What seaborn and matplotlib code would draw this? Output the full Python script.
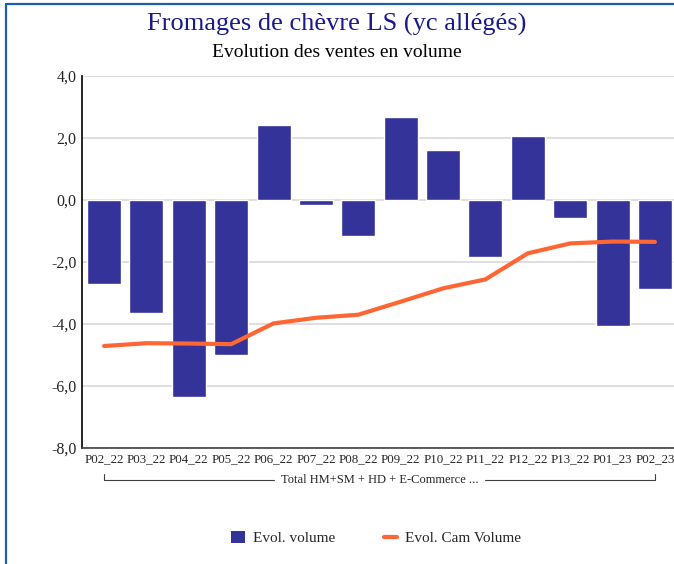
import numpy as np
import pandas as pd
import matplotlib
matplotlib.use("Agg")
import matplotlib.pyplot as plt
import seaborn as sns
from matplotlib.lines import Line2D
from matplotlib.patches import Patch

# Périodes et valeurs
periodes = ["P02_22", "P03_22", "P04_22", "P05_22", "P06_22", "P07_22", "P08_22",
            "P09_22", "P10_22", "P11_22", "P12_22", "P13_22", "P01_23", "P02_23"]
evol_volume = [-2.7, -3.63, -6.34, -5.0, 2.42, -0.15, -1.15,
               2.68, 1.61, -1.83, 2.06, -0.57, -4.05, -2.86]
evol_cam = [-4.71, -4.62, -4.63, -4.65, -3.98, -3.80, -3.70,
            -3.28, -2.85, -2.56, -1.72, -1.40, -1.34, -1.35]
yticks = [-8, -6, -4, -2, 0, 2, 4]

df = pd.DataFrame({"Période": periodes, "Evol. volume": evol_volume,
                   "Evol. Cam Volume": evol_cam})

sns.set_style("white")
plt.rcParams["font.family"] = ["Liberation Serif", "DejaVu Serif"]

bar_col = "#333399"
line_col = "#FF6633"

fig = plt.figure(figsize=(6.74, 5.64), dpi=100)
ax = fig.add_axes([0.1217, 0.2057, 0.8783, 0.6595])

sns.barplot(data=df, x="Période", y="Evol. volume", color=bar_col,
            saturation=1, width=0.8, ax=ax, zorder=2)
sns.lineplot(x=np.arange(len(df)), y=df["Evol. Cam Volume"], color=line_col,
             linewidth=3, ax=ax, zorder=3)

ax.set_ylim(-8, 4)
ax.set_xlim(-0.52, 13.45)
ax.set_yticks(yticks)
ax.set_yticklabels([f"{v:.1f}".replace(".", ",") for v in yticks], fontsize=11.5)
ax.set_xticks(range(len(df)))
ax.set_xticklabels(periodes, fontsize=9.3)
ax.tick_params(axis="both", length=0, pad=4)
ax.set_xlabel("")
ax.set_ylabel("")
ax.yaxis.grid(True, color="#D9D9D9", linewidth=1.2, zorder=0)
ax.set_axisbelow(True)
for s in ["top", "right"]:
    ax.spines[s].set_visible(False)
ax.spines["left"].set_color("black")
ax.spines["bottom"].set_color("#404040")
ax.spines["left"].set_linewidth(1.2)
ax.spines["bottom"].set_linewidth(1.2)

# Regroupement sous les étiquettes
y_br = -0.085
xt = ax.get_xaxis_transform()
ax.plot([0, 0, 4.0], [y_br + 0.015, y_br, y_br], color="#404040", lw=0.8,
        transform=xt, clip_on=False)
ax.plot([9.0, 13, 13], [y_br, y_br, y_br + 0.015], color="#404040", lw=0.8,
        transform=xt, clip_on=False)
ax.text(6.5, y_br, "Total HM+SM + HD + E-Commerce ...", transform=xt,
        ha="center", va="center", fontsize=9)

fig.text(0.5, 0.957, "Fromages de chèvre LS (yc allégés)", ha="center",
         va="center", fontsize=19, color="#1A1A8C")
fig.text(0.5, 0.907, "Evolution des ventes en volume", ha="center",
         va="center", fontsize=14, color="black")

handles = [Patch(facecolor=bar_col, edgecolor="none"),
           Line2D([0], [0], color=line_col, lw=3)]
fig.legend(handles, ["Evol. volume", "Evol. Cam Volume"], loc="center",
           bbox_to_anchor=(0.558, 0.046), ncol=2, frameon=False, fontsize=11,
           handlelength=0.9, handleheight=0.8, columnspacing=3.2, handletextpad=0.5)

# cadre bleu (haut et gauche seulement)
fig.add_artist(Line2D([0.0082, 1.0], [0.9929, 0.9929], transform=fig.transFigure,
                      color="#1E5FAA", linewidth=1.6))
fig.add_artist(Line2D([0.0082, 0.0082], [0.0, 0.9929], transform=fig.transFigure,
                      color="#1E5FAA", linewidth=1.6))

fig.savefig("out.png", dpi=100)
